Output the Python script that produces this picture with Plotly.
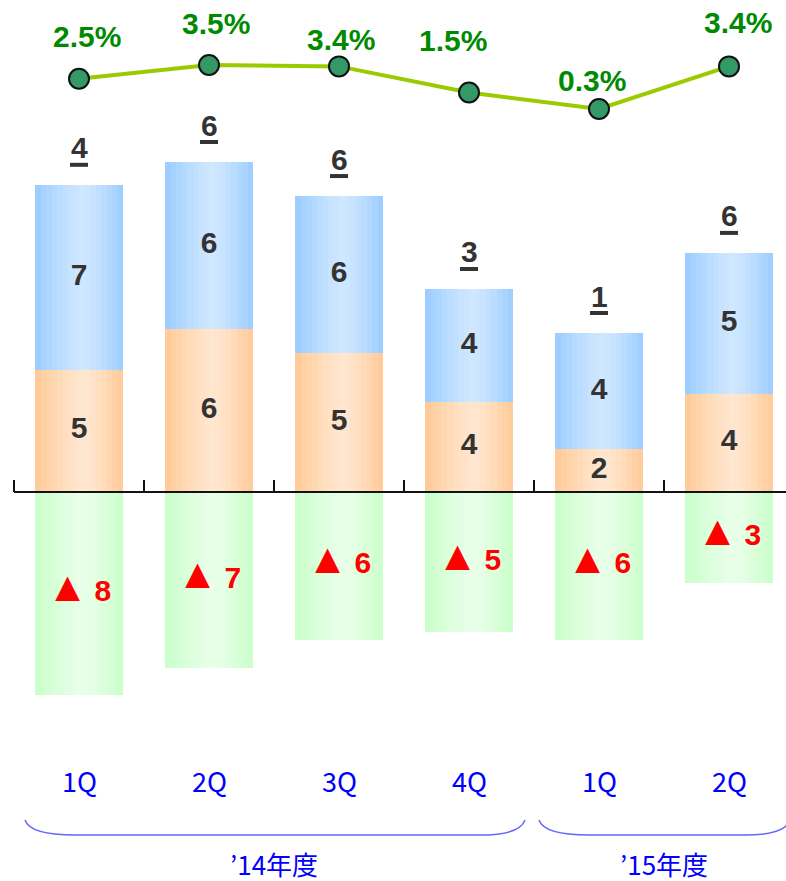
import plotly.graph_objects as go

W, H = 786, 881
FONT = "Liberation Sans, Arial, sans-serif"
JP_FONT = "Noto Sans CJK JP, sans-serif"

# data
quarters = ["1Q", "2Q", "3Q", "4Q", "1Q", "2Q"]
years = ["’14年度", "’15年度"]
year_sizes = [4, 2]
orange_vals = [4.77, 6.37, 5.43, 3.52, 1.68, 3.83]
blue_vals = [7.23, 6.52, 6.13, 4.41, 4.53, 5.51]
green_vals = [-7.93, -6.88, -5.78, -5.47, -5.78, -3.55]
orange_labels = [5, 6, 5, 4, 2, 4]
blue_labels = [7, 6, 6, 4, 4, 5]
green_labels = [8, 7, 6, 5, 6, 3]
total_labels = [4, 6, 6, 3, 1, 6]
rate_pct = [2.5, 3.5, 3.4, 1.5, 0.3, 3.4]

# label nudges for the rate line (pixels)
RATE_SHIFT = [(8, 42), (7, 42), (2, 27), (-16, 52), (-7, 29), (9, 44)]

BAR_W = 88 / 130
N_STRIP = 16
NUM_SIZE = 30
PALETTE = {
    "orange": ("#ffc995", "#ffe6cf"),
    "blue": ("#99ccff", "#cfe7ff"),
    "green": ("#c8ffc8", "#e8ffe8"),
}


def mix(c1, c2, t):
    a = [int(c1[i:i + 2], 16) for i in (1, 3, 5)]
    b = [int(c2[i:i + 2], 16) for i in (1, 3, 5)]
    return "#" + "".join(f"{round(x + (y - x) * t):02x}" for x, y in zip(a, b))


def light(t, peak=0.55):
    d = (peak - t) / peak if t < peak else (t - peak) / (1 - peak)
    return max(0.0, 1 - d ** 1.4)


def px2paper(px, py):
    return px / W, 1 - py / H


x = list(range(len(quarters)))
fig = go.Figure()

# bars drawn as thin strips to get the horizontal shading
for name, vals, base in [
    ("orange", orange_vals, [0] * len(x)),
    ("blue", blue_vals, orange_vals),
    ("green", green_vals, [0] * len(x)),
]:
    edge, mid = PALETTE[name]
    sw = BAR_W / N_STRIP
    for k in range(N_STRIP):
        t = (k + 0.5) / N_STRIP
        fig.add_trace(go.Bar(
            x=x, y=vals, base=base, width=sw * 1.02, offset=-BAR_W / 2 + k * sw,
            marker=dict(color=mix(edge, mid, light(t)), line=dict(width=0)),
            showlegend=False, hoverinfo="skip",
        ))

num_font = dict(family=FONT, size=NUM_SIZE, color="#333333", weight="bold")

# numbers inside the bars
fig.add_trace(go.Scatter(
    x=x, y=[v / 2 for v in orange_vals], mode="text",
    text=[str(v) for v in orange_labels], textfont=num_font,
    showlegend=False, hoverinfo="skip",
))
fig.add_trace(go.Scatter(
    x=x, y=[o + b / 2 for o, b in zip(orange_vals, blue_vals)], mode="text",
    text=[str(v) for v in blue_labels], textfont=num_font,
    showlegend=False, hoverinfo="skip",
))
fig.add_trace(go.Scatter(
    x=x, y=[v / 2 for v in green_vals], mode="text",
    text=[f"<span style='font-size:42px'>▲</span>\u2009{v}" for v in green_labels],
    textfont=dict(family=FONT, size=NUM_SIZE, color="#ff0000", weight="bold"),
    showlegend=False, hoverinfo="skip",
))

# rate line
fig.add_trace(go.Scatter(
    x=x, y=rate_pct, yaxis="y2", mode="lines+markers",
    line=dict(color="#99cc00", width=4),
    marker=dict(size=20, color="#339966", line=dict(color="#111111", width=2)),
    showlegend=False, hoverinfo="skip",
))

annotations = []
shapes = []
for i, r in enumerate(rate_pct):
    dx, dy = RATE_SHIFT[i]
    annotations.append(dict(
        x=i, y=r, xref="x", yref="y2", text=f"{r:.1f}%", showarrow=False,
        xshift=dx, yshift=dy,
        font=dict(family=FONT, size=NUM_SIZE, color="#008a00", weight="bold"),
    ))

for i, lab in enumerate(total_labels):
    top = orange_vals[i] + blue_vals[i]
    annotations.append(dict(
        x=i, y=top, xref="x", yref="y", text=str(lab), showarrow=False,
        yshift=37, font=num_font,
    ))
    shapes.append(dict(
        type="rect", xref="x", yref="y", xsizemode="pixel", ysizemode="pixel",
        xanchor=i, yanchor=top, x0=-9, x1=9, y0=18, y1=22,
        fillcolor="#333333", line=dict(width=0),
    ))

for i, q in enumerate(quarters):
    annotations.append(dict(
        x=i, y=1 - 780 / H, xref="x", yref="paper", text=q, showarrow=False,
        yanchor="middle", font=dict(family=JP_FONT, size=27, color="#0000ff"),
    ))

start = 0
for yr, n in zip(years, year_sizes):
    annotations.append(dict(
        x=start + (n - 1) / 2, y=1 - 863 / H, xref="x", yref="paper", text=yr,
        showarrow=False, yanchor="middle",
        font=dict(family=JP_FONT, size=26, color="#0000ff"),
    ))
    start += n

# zero line
shapes.append(dict(
    type="line", xref="x", yref="y", x0=-0.5, x1=5.5, y0=0, y1=0,
    line=dict(color="#111111", width=2),
))


def brace(x0, x1, y_end, y_end2):
    pts = [(x0, y_end), (x0 + 5, 835), (x0 + 50, 835), (x1 - 45, 835),
           (x1 - 5, 835), (x1, y_end2)]
    p = [px2paper(a, b) for a, b in pts]
    return (f"M {p[0][0]},{p[0][1]} Q {p[1][0]},{p[1][1]} {p[2][0]},{p[2][1]} "
            f"L {p[3][0]},{p[3][1]} Q {p[4][0]},{p[4][1]} {p[5][0]},{p[5][1]}")


for bx0, bx1, e1, e2 in [(25, 525, 820, 820), (539, 790, 820, 820)]:
    shapes.append(dict(
        type="path", xref="paper", yref="paper", path=brace(bx0, bx1, e1, e2),
        line=dict(color="#6666ff", width=1.5),
    ))

fig.update_layout(
    width=W, height=H,
    margin=dict(l=0, r=0, t=0, b=0),
    paper_bgcolor="white", plot_bgcolor="white",
    barmode="overlay", bargap=0,
    xaxis=dict(
        range=[-79 / 130, (W - 79) / 130], anchor="free", position=1 - 492 / H,
        tickvals=[-0.5, 0.5, 1.5, 2.5, 3.5, 4.5], ticks="inside", ticklen=12,
        tickwidth=2, tickcolor="#111111", showticklabels=False,
        showgrid=False, zeroline=False, showline=False, fixedrange=True,
    ),
    yaxis=dict(range=[-(H - 492) / 25.6, 492 / 25.6], visible=False),
    yaxis2=dict(range=[0.3 + 109 / 13.75 - H / 13.75, 0.3 + 109 / 13.75],
                overlaying="y", visible=False),
    annotations=annotations,
    shapes=shapes,
    showlegend=False,
)

fig.write_html(
    "out.html",
    config={"displayModeBar": False},
    post_script="document.body.style.margin='0';",
)
